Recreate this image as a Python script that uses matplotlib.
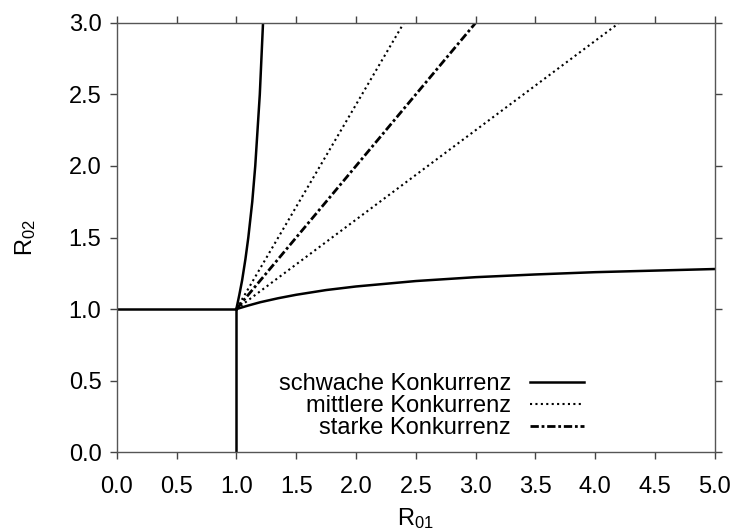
import matplotlib.pyplot as plt

plt.rcParams['font.family'] = ['Liberation Sans', 'DejaVu Sans']
plt.rcParams['mathtext.fontset'] = 'custom'
plt.rcParams['mathtext.rm'] = 'Liberation Sans'
plt.rcParams['mathtext.default'] = 'regular'
plt.rcParams['font.size'] = 17

# Weak competition: boundary lines and the two bending curves through (1, 1)
weak_h_x = [0.0, 1.0]
weak_h_y = [1.0, 1.0]
weak_v_x = [1.0, 1.0]
weak_v_y = [0.0, 1.0]
weak_low_x = [1.0, 1.1, 1.2, 1.35, 1.5, 1.75, 2.0, 2.5, 3.0, 3.5, 4.0, 4.5, 5.0]
weak_low_y = [1.0, 1.025, 1.048, 1.076, 1.100, 1.133, 1.158, 1.196, 1.223, 1.242, 1.258, 1.269, 1.280]
weak_up_x = [1.0, 1.025, 1.048, 1.076, 1.100, 1.133, 1.158, 1.196, 1.223]
weak_up_y = [1.0, 1.1, 1.2, 1.35, 1.5, 1.75, 2.0, 2.5, 3.0]

# Medium competition: two straight rays
mid_a_x = [1.0, 2.4]
mid_a_y = [1.0, 3.0]
mid_b_x = [1.0, 4.2]
mid_b_y = [1.0, 3.0]

# Strong competition: diagonal
strong_x = [1.0, 3.0]
strong_y = [1.0, 3.0]

labels = ['schwache Konkurrenz', 'mittlere Konkurrenz', 'starke Konkurrenz']

fig = plt.figure(figsize=(7.34, 5.32), dpi=100)
ax = fig.add_axes([0.159, 0.150, 0.815, 0.807])

solid = dict(color='black', lw=1.8, ls='-')
dotted = dict(color='black', lw=1.5, ls=(0, (1, 1.6)))
dashdot = dict(color='black', lw=2.0, ls=(0, (3, 1, 1, 1)))

l1, = ax.plot(weak_low_x, weak_low_y, **solid)
ax.plot(weak_up_x, weak_up_y, **solid)
ax.plot(weak_h_x, weak_h_y, **solid)
ax.plot(weak_v_x, weak_v_y, **solid)
l2, = ax.plot(mid_a_x, mid_a_y, **dotted)
ax.plot(mid_b_x, mid_b_y, **dotted)
l3, = ax.plot(strong_x, strong_y, **dashdot)

ax.set_xlim(0, 5)
ax.set_ylim(0, 3)
ax.set_xticks([i * 0.5 for i in range(11)])
ax.set_yticks([i * 0.5 for i in range(7)])
ax.xaxis.set_major_formatter(plt.FormatStrFormatter('%.1f'))
ax.yaxis.set_major_formatter(plt.FormatStrFormatter('%.1f'))
ax.tick_params(direction='out', length=5, width=1, color='#444444',
               top=True, right=True, pad=6)
ax.tick_params(axis='x', pad=12)
for s in ax.spines.values():
    s.set_color('#555555')
    s.set_linewidth(1)

ax.set_xlabel('R$_{01}$', labelpad=6)
ax.set_ylabel('R$_{02}$', labelpad=22)

leg = ax.legend([l1, l2, l3], labels, markerfirst=False, frameon=False,
                loc='center right', bbox_to_anchor=(0.796, 0.2365),
                bbox_transform=fig.transFigure, borderpad=0, borderaxespad=0,
                handlelength=2.3, handletextpad=0.8, labelspacing=0.0)
for col in leg._legend_handle_box.get_children():
    col.align = 'right'

fig.savefig('out.png', dpi=100)
